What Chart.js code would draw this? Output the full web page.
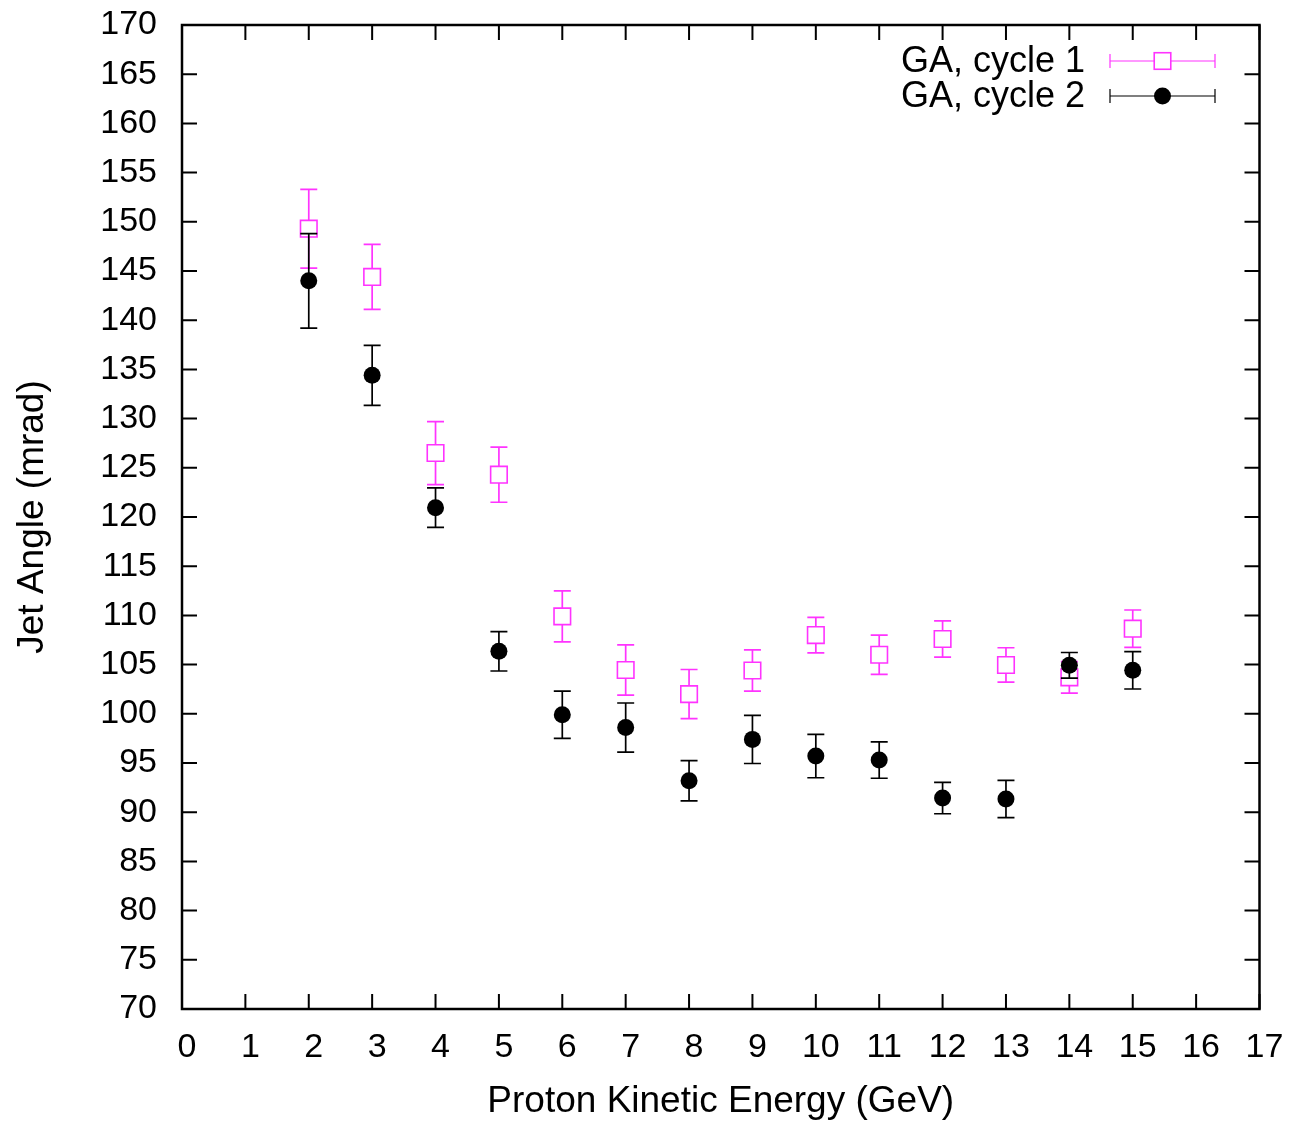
<!DOCTYPE html>
<html lang="en">
<head>
<meta charset="UTF-8">
<title>Jet Angle vs Proton Kinetic Energy</title>
<script src="https://cdn.jsdelivr.net/npm/chart.js"></script>
<style>
  body { margin: 0; background: #fff; }
</style>
</head>
<body>
<canvas id="jetChart" width="1291" height="1125"></canvas>
<script>
  // measured jet angles (mrad) per proton kinetic energy (GeV)
  const energies = [2, 3, 4, 5, 6, 7, 8, 9, 10, 11, 12, 13, 14, 15];
  const cycle1Angle = [149.3, 144.4, 126.5, 124.3, 109.9, 104.45, 102.0, 104.4, 108.0, 106.0, 107.6, 104.96, 103.7, 108.65];
  const cycle1Err = [4.0, 3.3, 3.2, 2.8, 2.6, 2.55, 2.5, 2.1, 1.8, 2.0, 1.85, 1.75, 1.6, 1.9];
  const cycle2Angle = [144.0, 134.4, 120.95, 106.35, 99.9, 98.6, 93.2, 97.4, 95.7, 95.3, 91.44, 91.34, 104.93, 104.42];
  const cycle2Err = [4.8, 3.05, 2.0, 2.0, 2.4, 2.5, 2.05, 2.45, 2.2, 1.85, 1.6, 1.9, 1.3, 1.9];
  const seriesLabels = ['GA, cycle 1', 'GA, cycle 2'];
  const xRange = [0, 17];
  const yRange = [70, 170];
  const yStep = 5;

  const FONT = 'Liberation Sans, Arial, Helvetica, sans-serif';
  const MAGENTA = '#ff33ff';
  const TICK_LEN = 15;
  const CAP = 8.5;
  const TICK_FONT = 34;
  const TITLE_FONT = 37;
  const KEY_FONT = 36;

  const toPoints = (ys) => energies.map((e, i) => ({ x: e, y: ys[i] }));

  // vertical error bars with caps, drawn just before each dataset's markers
  const errorBars = {
    id: 'errorBars',
    beforeDatasetDraw(chart, args) {
      const ds = chart.data.datasets[args.index];
      const { ctx } = chart;
      const y = chart.scales.y;
      const gap = ds.pointStyle === 'rect' ? ds.pointRadius * Math.SQRT1_2 : 0;
      ctx.save();
      ctx.strokeStyle = ds.barColor;
      ctx.lineWidth = 1.7;
      ds.errors.forEach((err, i) => {
        const pt = args.meta.data[i];
        const top = y.getPixelForValue(ds.data[i].y + err);
        const bot = y.getPixelForValue(ds.data[i].y - err);
        ctx.beginPath();
        ctx.moveTo(pt.x, top); ctx.lineTo(pt.x, pt.y - gap);
        ctx.moveTo(pt.x, pt.y + gap); ctx.lineTo(pt.x, bot);
        ctx.moveTo(pt.x - CAP, top); ctx.lineTo(pt.x + CAP, top);
        ctx.moveTo(pt.x - CAP, bot); ctx.lineTo(pt.x + CAP, bot);
        ctx.stroke();
      });
      ctx.restore();
    }
  };

  // closed frame with inward ticks on all four sides
  const frameTicks = {
    id: 'frameTicks',
    beforeDatasetsDraw(chart) {
      const { ctx, chartArea: a, scales: { x, y } } = chart;
      ctx.save();
      ctx.strokeStyle = '#000';
      ctx.lineWidth = 2;
      ctx.beginPath();
      x.ticks.forEach(t => {
        const px = x.getPixelForValue(t.value);
        ctx.moveTo(px, a.bottom); ctx.lineTo(px, a.bottom - TICK_LEN);
        ctx.moveTo(px, a.top); ctx.lineTo(px, a.top + TICK_LEN);
      });
      y.ticks.forEach(t => {
        const py = y.getPixelForValue(t.value);
        ctx.moveTo(a.left, py); ctx.lineTo(a.left + TICK_LEN, py);
        ctx.moveTo(a.right, py); ctx.lineTo(a.right - TICK_LEN, py);
      });
      ctx.stroke();
      ctx.lineWidth = 2.5;
      ctx.strokeRect(a.left, a.top, a.right - a.left, a.bottom - a.top);
      ctx.restore();
    }
  };

  // key in the top right corner: label, then sample bar with marker
  const keyBox = {
    id: 'keyBox',
    afterDraw(chart) {
      const { ctx } = chart;
      const textRight = 1085, x0 = 1110, x1 = 1215, xm = 1162.5;
      ctx.save();
      ctx.font = KEY_FONT + 'px ' + FONT;
      ctx.textAlign = 'right';
      ctx.textBaseline = 'middle';
      chart.data.datasets.forEach((ds, i) => {
        const yy = 61 + i * 35;
        ctx.fillStyle = '#000';
        ctx.fillText(ds.label, textRight, yy + 1);
        const gap = ds.pointStyle === 'rect' ? ds.pointRadius * Math.SQRT1_2 : 0;
        ctx.strokeStyle = ds.barColor;
        ctx.lineWidth = 1.2;
        ctx.beginPath();
        ctx.moveTo(x0, yy); ctx.lineTo(xm - gap, yy);
        ctx.moveTo(xm + gap, yy); ctx.lineTo(x1, yy);
        ctx.moveTo(x0, yy - 7); ctx.lineTo(x0, yy + 7);
        ctx.moveTo(x1, yy - 7); ctx.lineTo(x1, yy + 7);
        ctx.stroke();
        if (ds.pointStyle === 'rect') {
          ctx.lineWidth = ds.pointBorderWidth;
          ctx.strokeRect(xm - gap, yy - gap, 2 * gap, 2 * gap);
        } else {
          ctx.fillStyle = ds.pointBackgroundColor;
          ctx.beginPath();
          ctx.arc(xm, yy, ds.pointRadius, 0, Math.PI * 2);
          ctx.fill();
        }
      });
      ctx.restore();
    }
  };

  Chart.defaults.font.family = FONT;
  Chart.defaults.color = '#000';

  new Chart(document.getElementById('jetChart'), {
    type: 'scatter',
    data: {
      datasets: [
        {
          label: seriesLabels[0],
          data: toPoints(cycle1Angle),
          errors: cycle1Err,
          barColor: MAGENTA,
          pointStyle: 'rect',
          pointRadius: 11.7,
          pointBorderWidth: 1.6,
          pointBorderColor: MAGENTA,
          pointBackgroundColor: 'rgba(0,0,0,0)',
          order: 1
        },
        {
          label: seriesLabels[1],
          data: toPoints(cycle2Angle),
          errors: cycle2Err,
          barColor: '#000',
          pointStyle: 'circle',
          pointRadius: 8.5,
          pointBorderWidth: 0,
          pointBorderColor: '#000',
          pointBackgroundColor: '#000',
          order: 0
        }
      ]
    },
    options: {
      responsive: false,
      animation: false,
      events: [],
      layout: { padding: { top: 25, right: 31.5, left: 0, bottom: 0 } },
      plugins: { legend: { display: false }, tooltip: { enabled: false } },
      scales: {
        x: {
          type: 'linear',
          min: xRange[0],
          max: xRange[1],
          grid: { display: false, drawTicks: false },
          border: { display: false },
          ticks: { stepSize: 1, padding: 18, labelOffset: 5, font: { size: TICK_FONT }, maxRotation: 0 },
          title: { display: true, text: 'Proton Kinetic Energy (GeV)', font: { size: TITLE_FONT }, padding: { top: 0, bottom: 1 } },
          afterFit(scale) {
            scale.height = 116;
            scale.paddingLeft = 0;
            scale.paddingRight = 0;
          }
        },
        y: {
          type: 'linear',
          min: yRange[0],
          max: yRange[1],
          grid: { display: false, drawTicks: false },
          border: { display: false },
          ticks: { stepSize: yStep, padding: 25, font: { size: TICK_FONT } },
          title: { display: true, text: 'Jet Angle (mrad)', font: { size: TITLE_FONT }, padding: { top: 11, bottom: 0 } },
          afterFit(scale) {
            scale.width = 182;
            scale.paddingTop = 0;
            scale.paddingBottom = 0;
          }
        }
      }
    },
    plugins: [errorBars, frameTicks, keyBox]
  });
</script>
</body>
</html>
